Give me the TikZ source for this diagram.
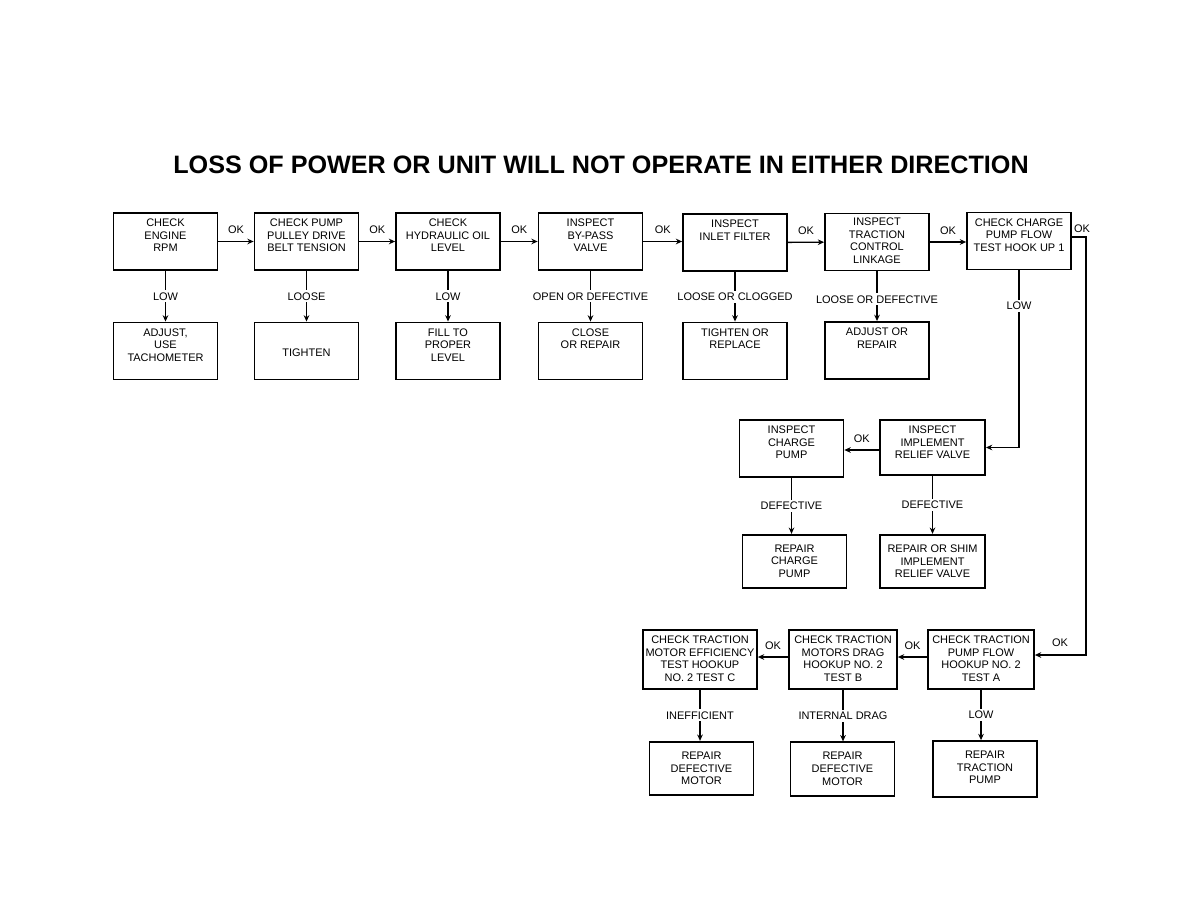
\documentclass[tikz,border=0pt]{standalone}
\usepackage{fontspec}
\setmainfont{Liberation Sans}
\usetikzlibrary{arrows.meta}

\begin{document}
\begin{tikzpicture}[
    x=0.025cm, y=-0.025cm,
    box/.style={rectangle, draw, line width=1.2pt, minimum width=2.6cm, minimum height=1.43cm},
    short/.style={box, minimum height=1.34cm},
    txt/.style={align=center, inner sep=0pt, anchor=north, yshift=-0.17cm, font=\fontsize{7.8}{8.9}\selectfont},
    link/.style={line width=1pt, -{Stealth[length=4.5pt, width=4pt]}},
    cond/.style={fill=white, inner sep=1.5pt, font=\fontsize{7.8}{8.9}\selectfont},
    ok/.style={above=5pt, inner sep=0pt, font=\fontsize{7.8}{8.9}\selectfont}
]
\useasboundingbox (0,0) rectangle (1188,918);

\node [font=\fontsize{17.9}{20}\selectfont\bfseries] (title) at (601,165)
    {LOSS OF POWER OR UNIT WILL NOT OPERATE IN EITHER DIRECTION};

\node [box] (engine) at (165.5,241.5) {};
\node [txt] (engine-t) at (engine.north) {CHECK\\ENGINE\\RPM};
\node [box] (pulley) at (306.5,241.5) {};
\node [txt] (pulley-t) at (pulley.north) {CHECK PUMP\\PULLEY DRIVE\\BELT TENSION};
\node [box] (oil) at (448,241.5) {};
\node [txt] (oil-t) at (oil.north) {CHECK\\HYDRAULIC OIL\\LEVEL};
\node [box] (bypass) at (590.5,241.5) {};
\node [txt] (bypass-t) at (bypass.north) {INSPECT\\BY-PASS\\VALVE};
\node [box] (inlet) at (735,242.5) {};
\node [txt] (inlet-t) at (inlet.north) {INSPECT\\INLET FILTER};
\node [box] (linkage) at (877,242) {};
\node [txt, yshift=0.04cm] (linkage-t) at (linkage.north) {INSPECT\\TRACTION\\CONTROL\\LINKAGE};
\node [box] (chargeflow) at (1019,241) {};
\node [txt] (chargeflow-t) at (chargeflow.north) {CHECK CHARGE\\PUMP FLOW\\TEST HOOK UP 1};

\node [box] (adjust) at (165.5,351) {};
\node [txt] (adjust-t) at (adjust.north) {ADJUST,\\USE\\TACHOMETER};
\node [box] (tighten) at (306.5,351) {};
\node [txt, anchor=center, yshift=0.12cm] (tighten-t) at (tighten.center) {TIGHTEN};
\node [box] (fill) at (448,351) {};
\node [txt] (fill-t) at (fill.north) {FILL TO\\PROPER\\LEVEL};
\node [box] (close) at (590.5,351) {};
\node [txt] (close-t) at (close.north) {CLOSE\\OR REPAIR};
\node [box] (replace) at (735,351) {};
\node [txt] (replace-t) at (replace.north) {TIGHTEN OR\\REPLACE};
\node [box] (repair) at (877,350.5) {};
\node [txt] (repair-t) at (repair.north) {ADJUST OR\\REPAIR};

\node [box] (chargepump) at (791.5,448.5) {};
\node [txt] (chargepump-t) at (chargepump.north) {INSPECT\\CHARGE\\PUMP};
\node [box, minimum width=2.63cm, minimum height=1.38cm] (relief) at (932.5,447.5) {};
\node [txt] (relief-t) at (relief.north) {INSPECT\\IMPLEMENT\\RELIEF VALVE};
\node [short] (repaircharge) at (794.5,561.5) {};
\node [txt, yshift=-0.1cm] (repaircharge-t) at (repaircharge.north) {REPAIR\\CHARGE\\PUMP};
\node [short, minimum width=2.63cm] (shim) at (932.5,561.5) {};
\node [txt, yshift=-0.1cm] (shim-t) at (shim.north) {REPAIR OR SHIM\\IMPLEMENT\\RELIEF VALVE};

\node [box, minimum width=2.85cm, minimum height=1.48cm] (efficiency) at (700,659.5) {};
\node [txt] (efficiency-t) at (efficiency.north) {CHECK TRACTION\\MOTOR EFFICIENCY\\TEST HOOKUP\\NO. 2 TEST C};
\node [box, minimum width=2.7cm, minimum height=1.48cm] (drag) at (843,659.5) {};
\node [txt] (drag-t) at (drag.north) {CHECK TRACTION\\MOTORS DRAG\\HOOKUP NO. 2\\TEST B};
\node [box, minimum width=2.65cm, minimum height=1.48cm] (pumpflow) at (981,659.5) {};
\node [txt] (pumpflow-t) at (pumpflow.north) {CHECK TRACTION\\PUMP FLOW\\HOOKUP NO. 2\\TEST A};
\node [short] (motor-c) at (701.5,768.5) {};
\node [txt, yshift=-0.1cm] (motor-c-t) at (motor-c.north) {REPAIR\\DEFECTIVE\\MOTOR};
\node [short] (motor-b) at (842.5,769) {};
\node [txt, yshift=-0.1cm] (motor-b-t) at (motor-b.north) {REPAIR\\DEFECTIVE\\MOTOR};
\node [short, minimum height=1.4cm] (tractionpump) at (985,769) {};
\node [txt, yshift=-0.1cm] (tractionpump-t) at (tractionpump.north) {REPAIR\\TRACTION\\PUMP};

\draw [link] (engine) -- node [ok] {OK} (pulley);
\draw [link] (pulley) -- node [ok] {OK} (oil);
\draw [link] (oil) -- node [ok] {OK} (bypass);
\draw [link] (bypass) -- node [ok] {OK} (inlet.west |- bypass);
\draw [link] (inlet) -- node [ok] {OK} (linkage);
\draw [link] (linkage) -- node [ok] {OK} (chargeflow.west |- linkage);

\draw [link] (engine.south) -- node [cond] {LOW} (engine.south |- adjust.north);
\draw [link] (pulley.south) -- node [cond] {LOOSE} (pulley.south |- tighten.north);
\draw [link] (oil.south) -- node [cond] {LOW} (oil.south |- fill.north);
\draw [link] (bypass.south) -- node [cond] {OPEN OR DEFECTIVE} (bypass.south |- close.north);
\draw [link] (inlet.south) -- node [cond] {LOOSE OR CLOGGED} (inlet.south |- replace.north);
\draw [link] (linkage.south) -- node [cond, yshift=-0.08cm] {LOOSE OR DEFECTIVE} (linkage.south |- repair.north);

\draw [link] (chargeflow.south) |- node [cond, pos=0.1] {LOW} (relief.east);
\coordinate (okturn) at (1086,237);
\draw [link] (chargeflow.east |- okturn) -- (okturn) |- (pumpflow.east |- 0,655);
\node [font=\fontsize{7.8}{8.9}\selectfont] (ok-top) at (1082,229) {OK};
\node [font=\fontsize{7.8}{8.9}\selectfont] (ok-side) at (1060,643) {OK};

\draw [link] (relief.west |- 0,450) -- node [ok] {OK} (chargepump.east |- 0,450);
\draw [link] (chargepump.south) -- node [cond] {DEFECTIVE} (chargepump.south |- repaircharge.north);
\draw [link] (relief.south) -- node [cond] {DEFECTIVE} (relief.south |- shim.north);

\draw [link] (pumpflow.west |- 0,657) -- node [ok] {OK} (drag.east |- 0,657);
\draw [link] (drag.west |- 0,657) -- node [ok] {OK} (efficiency.east |- 0,657);
\draw [link] (efficiency.south) -- node [cond] {INEFFICIENT} (efficiency.south |- motor-c.north);
\draw [link] (drag.south) -- node [cond] {INTERNAL DRAG} (drag.south |- motor-b.north);
\draw [link] (pumpflow.south) -- node [cond] {LOW} (pumpflow.south |- tractionpump.north);

\end{tikzpicture}
\end{document}
